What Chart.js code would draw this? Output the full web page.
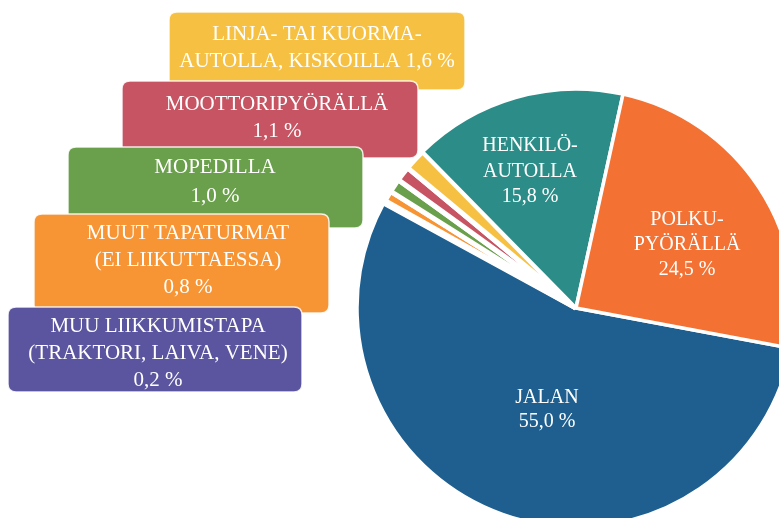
<!DOCTYPE html>
<html>
<head>
<meta charset="utf-8">
<script src="https://cdn.jsdelivr.net/npm/chart.js@4.4.1/dist/chart.umd.min.js"></script>
<style>
  html, body { margin: 0; padding: 0; background: #fff; overflow: hidden; }
  #wrap { width: 779px; height: 518px; }
</style>
</head>
<body>
<div id="wrap"><canvas id="pie" width="779" height="518"></canvas></div>
<script>
// Data (clockwise from the JALAN / POLKUPYÖRÄLLÄ boundary)
const categories = ['JALAN', 'MUU LIIKKUMISTAPA', 'MUUT TAPATURMAT', 'MOPEDILLA', 'MOOTTORIPYÖRÄLLÄ',
    'LINJA- TAI KUORMA-AUTOLLA, KISKOILLA', 'HENKILÖAUTOLLA', 'POLKUPYÖRÄLLÄ'];
const shares = [55.0, 0.2, 0.8, 1.0, 1.1, 1.6, 15.8, 24.5];
const labelLines = [
    ['JALAN'],
    ['MUU LIIKKUMISTAPA', '(TRAKTORI, LAIVA, VENE)'],
    ['MUUT TAPATURMAT', '(EI LIIKUTTAESSA)'],
    ['MOPEDILLA'],
    ['MOOTTORIPYÖRÄLLÄ'],
    ['LINJA- TAI KUORMA-', 'AUTOLLA, KISKOILLA'],
    ['HENKILÖ-', 'AUTOLLA'],
    ['POLKU-', 'PYÖRÄLLÄ']
];
const valueOnLastLine = [false, false, false, false, false, true, false, false];
const sliceColors = ['#1e5f8f', '#5a559e', '#f79535', '#6a9f4b', '#c65462', '#f6c143', '#2c8d88', '#f27133'];

// Where the texts go (callout boxes for the thin slices, labels inside the big ones)
const calloutOrder = [5, 4, 3, 2, 1];
const callouts = {
    5: { x: 169, y: 12, w: 296, h: 78, cx: 317, top: 40, lh: 27 },
    4: { x: 122, y: 81, w: 296, h: 77, cx: 277, top: 110, lh: 27 },
    3: { x: 68, y: 147, w: 295, h: 81, cx: 215, top: 173, lh: 29 },
    2: { x: 34, y: 214, w: 295, h: 99, cx: 188, top: 239, lh: 27 },
    1: { x: 8, y: 307, w: 294, h: 85, cx: 158, top: 332, lh: 27 }
};
const insideLabels = {
    0: { cx: 547, top: 403, lh: 24 },
    6: { cx: 530, top: 151, lh: 25.5 },
    7: { cx: 687, top: 225, lh: 25 }
};

const fmt = v => v.toFixed(1).replace('.', ',') + ' %';

function textFor(i) {
    const lines = labelLines[i].slice();
    if (valueOnLastLine[i]) lines[lines.length - 1] += ' ' + fmt(shares[i]);
    else lines.push(fmt(shares[i]));
    return lines;
}

function roundRect(ctx, x, y, w, h, r) {
    ctx.beginPath();
    ctx.moveTo(x + r, y);
    ctx.lineTo(x + w - r, y);
    ctx.quadraticCurveTo(x + w, y, x + w, y + r);
    ctx.lineTo(x + w, y + h - r);
    ctx.quadraticCurveTo(x + w, y + h, x + w - r, y + h);
    ctx.lineTo(x + r, y + h);
    ctx.quadraticCurveTo(x, y + h, x, y + h - r);
    ctx.lineTo(x, y + r);
    ctx.quadraticCurveTo(x, y, x + r, y);
    ctx.closePath();
}

const labelPlugin = {
    id: 'labelPlugin',
    afterDraw(chart) {
        const ctx = chart.ctx;
        ctx.save();
        ctx.textAlign = 'center';
        ctx.textBaseline = 'alphabetic';
        ctx.fillStyle = '#ffffff';

        // labels inside the big slices
        ctx.font = '20px "Liberation Serif"';
        Object.keys(insideLabels).forEach(k => {
            const p = insideLabels[k];
            textFor(+k).forEach((t, j) => {
                ctx.fillStyle = '#ffffff';
                ctx.fillText(t, p.cx, p.top + j * p.lh);
            });
        });

        // callout boxes
        calloutOrder.forEach(i => {
            const b = callouts[i];
            roundRect(ctx, b.x, b.y, b.w, b.h, 8);
            ctx.fillStyle = sliceColors[i];
            ctx.fill();
            ctx.lineWidth = 1.5;
            ctx.strokeStyle = 'rgba(255,255,255,0.85)';
            ctx.stroke();
            ctx.fillStyle = '#ffffff';
            ctx.font = '21px "Liberation Serif"';
            textFor(i).forEach((t, j) => ctx.fillText(t, b.cx, b.top + j * b.lh));
        });
        ctx.restore();
    }
};

new Chart(document.getElementById('pie'), {
    type: 'pie',
    data: {
        labels: categories,
        datasets: [{
            data: shares,
            backgroundColor: sliceColors,
            borderColor: '#ffffff',
            borderWidth: [3.5, 5, 5, 5, 5, 5, 3.5, 3.5],
            clip: false
        }]
    },
    options: {
        responsive: false,
        animation: false,
        events: [],
        rotation: 100.6,
        radius: 219,
        layout: { padding: { left: 373, right: 0, top: 98, bottom: 0 } },
        plugins: {
            legend: { display: false },
            tooltip: { enabled: false }
        }
    },
    plugins: [labelPlugin]
});
</script>
</body>
</html>
